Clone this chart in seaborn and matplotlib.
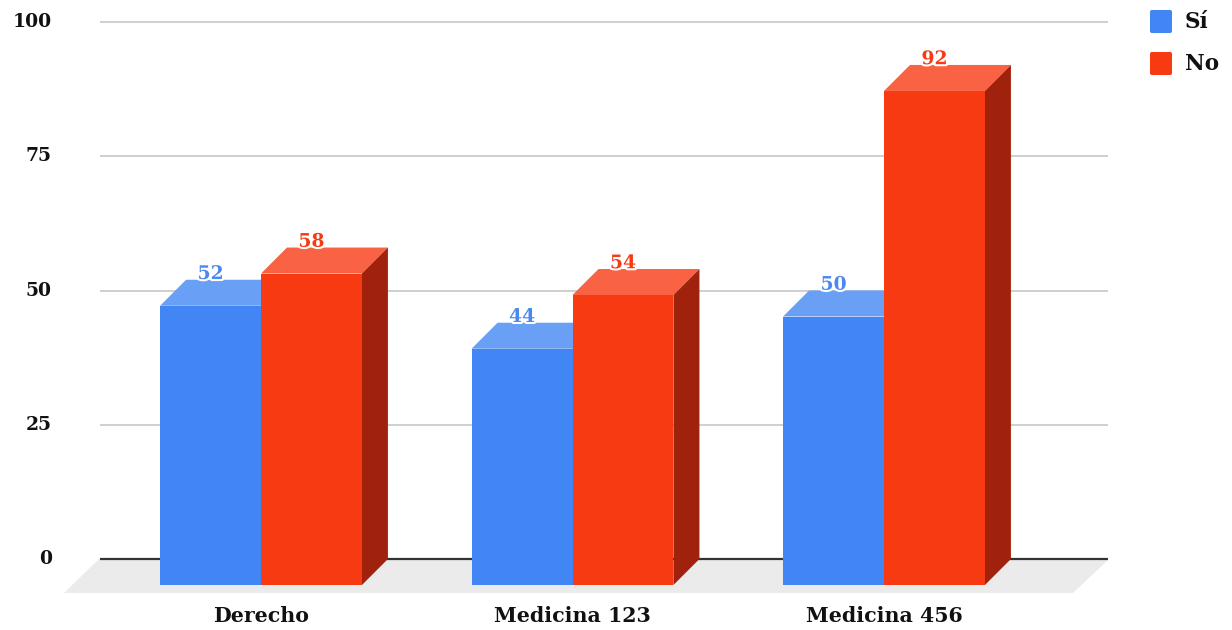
import numpy as np
import pandas as pd
import matplotlib
matplotlib.use("Agg")
import matplotlib.pyplot as plt
import seaborn as sns
from matplotlib.patches import Polygon, FancyBboxPatch, Rectangle
import matplotlib.patheffects as pe

categories = ["Derecho", "Medicina 123", "Medicina 456"]
series = ["Sí", "No"]
si_values = [52, 44, 50]
no_values = [58, 54, 92]
y_ticks = [0, 25, 50, 75, 100]

front_colors = {"Sí": "#4285f4", "No": "#f83a12"}
top_colors = {"Sí": "#6a9ff6", "No": "#f96243"}
side_colors = {"Sí": "#2d5fb5", "No": "#a0220c"}
label_colors = {"Sí": "#4a88f0", "No": "#f83a12"}

df = pd.DataFrame({
    "category": categories * 2,
    "series": [series[0]] * 3 + [series[1]] * 3,
    "value": si_values + no_values,
})

W, H = 1232, 630
FONT = "DejaVu Serif"

sns.set_theme(style="white")
plt.rcParams["font.family"] = [FONT, "DejaVu Sans"]

fig = plt.figure(figsize=(W / 100, H / 100), dpi=100)
ax = fig.add_axes([0, 0, 1, 1])

# pixel geometry of the front plane
PX_CAT = 311.5      # pixels between category centres
PX_UNIT = 5.37      # pixels per value unit
X0, Y0 = 261.0, 585  # pixel position of category 0 / value 0 (front plane)


def px(x, y):
    """Pixel (from top-left) to data coordinates."""
    return (x - X0) / PX_CAT, (Y0 - y) / PX_UNIT


DX = 26 / PX_CAT    # depth offset, x
DY = 26 / PX_UNIT   # depth offset, y

sns.barplot(data=df, x="category", y="value", hue="series", order=categories,
            hue_order=series, palette=front_colors, saturation=1,
            width=0.648, gap=0, linewidth=0, legend=False, ax=ax)

bars = [p for p in ax.patches if isinstance(p, Rectangle) and p.get_height() > 0]

ax.set_xlim(px(0, 0)[0], px(W, 0)[0])
ax.set_ylim(px(0, H)[1], px(0, 0)[1])
ax.axis("off")

# floor
floor = [px(99, 559), px(1109, 559), px(1073, 593), px(64, 593)]
ax.add_patch(Polygon(floor, closed=True, facecolor="#ebebeb", edgecolor="none", zorder=0.5))

# back-plane grid lines and value axis labels
gx0, gx1 = px(100, 0)[0], px(1108, 0)[0]
for v in y_ticks:
    yb = v + DY
    ax.plot([gx0, gx1], [yb, yb], color="#333333" if v == 0 else "#cccccc",
            lw=1.6 if v == 0 else 1.3, zorder=1, solid_capstyle="butt")
    ax.text(px(52, 0)[0], yb, f"{v}", ha="right", va="center", fontsize=13.5,
            fontweight="bold", color="#111111", family=FONT)

# extrude every bar: top and side faces
for patch in bars:
    x, w, h = patch.get_x(), patch.get_width(), patch.get_height()
    xc = x + w / 2
    cat_idx = int(round(xc))
    s = series[0] if xc < cat_idx else series[1]
    order = cat_idx * 2 + (0 if s == series[0] else 1)
    z = 3 + 2 * order
    patch.set_zorder(z + 1)
    top = [(x, h), (x + w, h), (x + w + DX, h + DY), (x + DX, h + DY)]
    side = [(x + w, 0), (x + w + DX, DY), (x + w + DX, h + DY), (x + w, h)]
    ax.add_patch(Polygon(top, closed=True, facecolor=top_colors[s], edgecolor="none", zorder=z))
    ax.add_patch(Polygon(side, closed=True, facecolor=side_colors[s], edgecolor="none", zorder=z))
    ax.text(xc, h + DY - 0.6, f"{h:g}", ha="center", va="bottom", fontsize=13.5,
            fontweight="bold", color=label_colors[s], family=FONT, zorder=50,
            path_effects=[pe.withStroke(linewidth=3, foreground="white")])

# category labels
for i, c in enumerate(categories):
    ax.text(i, px(0, 616)[1], c, ha="center", va="center", fontsize=14.8,
            fontweight="bold", color="#111111", family=FONT)

# legend
for k, s in enumerate(series):
    ytop = 10 + 42 * k
    lx, ly = px(1150, ytop + 23)
    ax.add_patch(FancyBboxPatch((lx, ly), 22 / PX_CAT, 23 / PX_UNIT,
                                boxstyle="round,pad=0,rounding_size=0.006",
                                mutation_aspect=PX_CAT / PX_UNIT,
                                facecolor=front_colors[s], edgecolor="none",
                                zorder=60, clip_on=False))
    ax.text(px(1185, 0)[0], px(0, ytop + 12)[1], s, ha="left", va="center",
            fontsize=15.5, fontweight="bold", color="#111111", family=FONT, zorder=60)

fig.savefig("out.png", dpi=100, facecolor="white")
